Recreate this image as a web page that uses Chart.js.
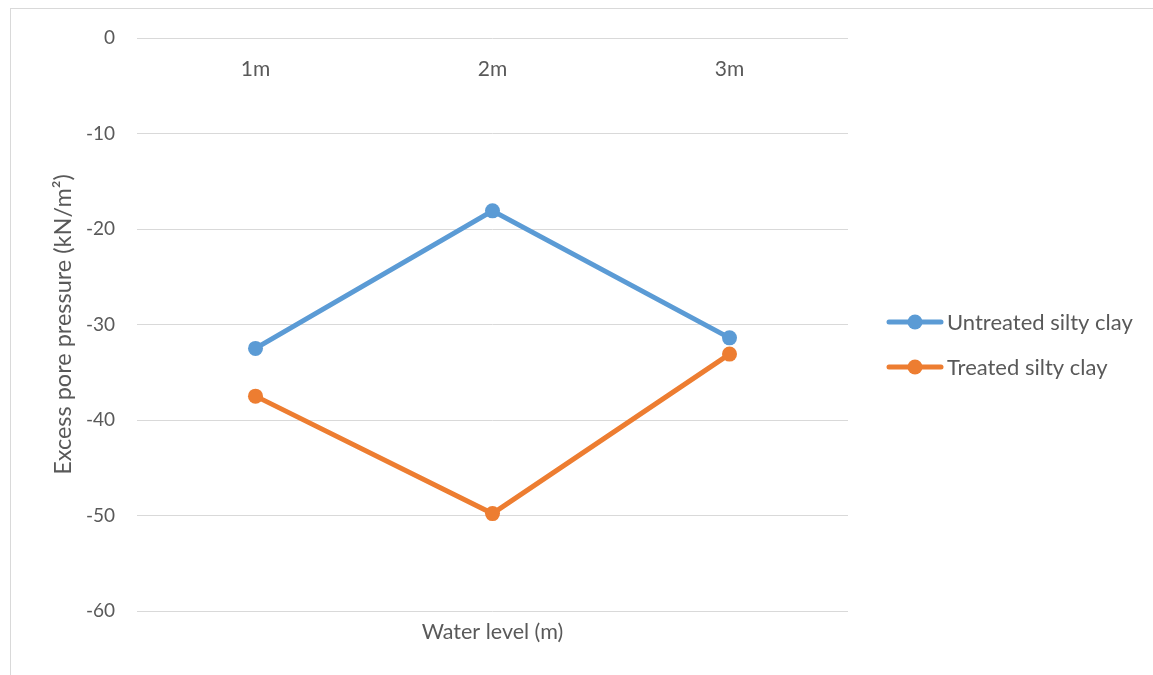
<!DOCTYPE html>
<html>
<head>
<meta charset="utf-8">
<script src="https://cdn.jsdelivr.net/npm/chart.js@4/dist/chart.umd.min.js"></script>
<style>
  html, body { margin: 0; padding: 0; background: #fff; overflow: hidden; }
  #wrap { position: relative; width: 1153px; height: 675px; }
  #frame { position: absolute; left: 10px; top: 8px; width: 1200px; height: 700px;
           border: 1px solid #d9d9d9; box-sizing: border-box; pointer-events: none; }
  canvas { position: absolute; left: 0; top: 0; }
</style>
</head>
<body>
<div id="wrap">
  <canvas id="chart" width="1153" height="675"></canvas>
  <div id="frame"></div>
</div>
<script>
// Water levels and measured excess pore pressures (kN/m²)
const waterLevels = ['1m', '2m', '3m'];
const untreatedSiltyClay = [-32.5, -18.1, -31.4];
const treatedSiltyClay = [-37.5, -49.8, -33.1];
const yTicks = [0, -10, -20, -30, -40, -50, -60];

const TEXT = '#595959';
const FONT = 'Lato, "Open Sans", sans-serif';
const LINE_W = 5;

// Legend with a line-and-marker symbol, drawn to the right of the plot
const sideLegend = {
  id: 'sideLegend',
  afterDraw(chart) {
    const ctx = chart.ctx;
    const rows = [322, 367];
    chart.data.datasets.forEach((ds, i) => {
      const y = rows[i];
      ctx.save();
      ctx.strokeStyle = ds.borderColor;
      ctx.lineWidth = LINE_W;
      ctx.lineCap = 'round';
      ctx.beginPath();
      ctx.moveTo(889, y);
      ctx.lineTo(941, y);
      ctx.stroke();
      ctx.fillStyle = ds.borderColor;
      ctx.beginPath();
      ctx.arc(915, y, 7.5, 0, Math.PI * 2);
      ctx.fill();
      ctx.fillStyle = TEXT;
      ctx.font = '22px ' + FONT;
      ctx.textBaseline = 'middle';
      ctx.textAlign = 'left';
      ctx.fillText(ds.label, 947, y + 1);
      ctx.restore();
    });
  }
};

new Chart(document.getElementById('chart'), {
  type: 'line',
  data: {
    labels: waterLevels,
    datasets: [
      {
        label: 'Untreated silty clay',
        data: untreatedSiltyClay,
        borderColor: '#5b9bd5',
        backgroundColor: '#5b9bd5',
        borderWidth: LINE_W,
        pointRadius: 7.5,
        pointBorderWidth: 0,
        pointBackgroundColor: '#5b9bd5',
        tension: 0
      },
      {
        label: 'Treated silty clay',
        data: treatedSiltyClay,
        borderColor: '#ed7d31',
        backgroundColor: '#ed7d31',
        borderWidth: LINE_W,
        pointRadius: 7.5,
        pointBorderWidth: 0,
        pointBackgroundColor: '#ed7d31',
        tension: 0
      }
    ]
  },
  options: {
    responsive: false,
    animation: false,
    layout: { padding: { left: 0, top: 38, right: 305, bottom: 0 } },
    plugins: {
      legend: { display: false },
      tooltip: { enabled: false }
    },
    scales: {
      x: {
        type: 'category',
        position: { y: 0 },
        offset: true,
        grid: { display: false, drawTicks: false },
        border: { display: false },
        ticks: { color: TEXT, font: { family: FONT, size: 21 }, padding: 19 }
      },
      xTitle: {
        type: 'category',
        position: 'bottom',
        labels: waterLevels,
        offset: true,
        grid: { display: false, drawTicks: false },
        border: { display: false },
        ticks: { display: false },
        title: {
          display: true,
          text: 'Water level (m)',
          color: TEXT,
          font: { family: FONT, size: 21.5 },
          padding: { top: 0, bottom: 30 }
        },
        afterFit(scale) { scale.height = 64; }
      },
      y: {
        min: -60,
        max: 0,
        afterBuildTicks(scale) { scale.ticks = yTicks.map(v => ({ value: v })); },
        grid: { color: '#d9d9d9', lineWidth: 1, drawTicks: false },
        border: { display: false },
        ticks: { color: TEXT, font: { family: FONT, size: 19 }, padding: 22 },
        title: {
          display: true,
          text: 'Excess pore pressure (kN/m²)',
          color: TEXT,
          font: { family: FONT, size: 23.5 },
          padding: { top: 49, bottom: 0 }
        },
        afterFit(scale) { scale.width = 137; }
      }
    }
  },
  plugins: [sideLegend]
});
</script>
</body>
</html>
